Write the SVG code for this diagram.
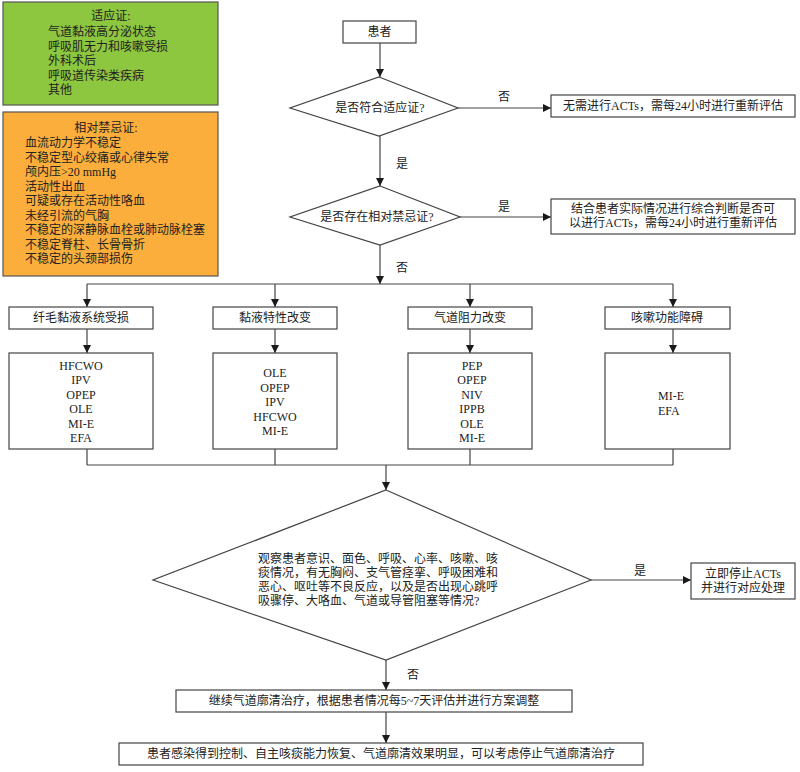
<svg xmlns="http://www.w3.org/2000/svg" width="800" height="772" viewBox="0 0 800 772">
<defs>
<marker id="arr" markerUnits="userSpaceOnUse" markerWidth="9" markerHeight="9" refX="8" refY="4" orient="auto">
<path d="M0,0 L8,4 L0,8 z" fill="#1a1a1a"/>
</marker>
<style>
text{font-family:"Liberation Serif","Noto Sans CJK SC",serif;font-size:12px;fill:#222}
.c{text-anchor:middle}
.box{fill:#fff;stroke:#444;stroke-width:1.2}
.ln{fill:none;stroke:#444;stroke-width:1.2}
.ar{fill:none;stroke:#444;stroke-width:1.2;marker-end:url(#arr)}
</style>
</defs>
<rect width="800" height="772" fill="#fff"/>

<g id="indications">
<rect x="3" y="2" width="215" height="103" fill="#8dc63f" stroke="#555" stroke-width="1.2"/>
<text class="c" x="111" y="20">适应证:</text>
<text x="48" y="36">气道黏液高分泌状态</text>
<text x="48" y="50.5">呼吸肌无力和咳嗽受损</text>
<text x="48" y="65">外科术后</text>
<text x="48" y="79.5">呼吸道传染类疾病</text>
<text x="48" y="94">其他</text>
</g>

<g id="contraindications">
<rect x="3" y="112" width="215" height="164" fill="#fbae3c" stroke="#555" stroke-width="1.2"/>
<text class="c" x="106" y="132">相对禁忌证:</text>
<text x="25" y="147">血流动力学不稳定</text>
<text x="25" y="161.5">不稳定型心绞痛或心律失常</text>
<text x="25" y="176">颅内压&gt;20 mmHg</text>
<text x="25" y="190.5">活动性出血</text>
<text x="25" y="205">可疑或存在活动性咯血</text>
<text x="25" y="219.5">未经引流的气胸</text>
<text x="25" y="234">不稳定的深静脉血栓或肺动脉栓塞</text>
<text x="25" y="248.5">不稳定脊柱、长骨骨折</text>
<text x="25" y="263">不稳定的头颈部损伤</text>
</g>

<g id="connectors">
<path class="ar" d="M380,43 V77"/>
<path class="ar" d="M380,136 V186"/>
<path class="ar" d="M380,245 V284"/>
<path class="ar" d="M458,108 H551"/>
<path class="ar" d="M460,217 H551"/>
<path class="ln" d="M87,284 H673"/>
<path class="ar" d="M87,284 V307"/>
<path class="ar" d="M275,284 V307"/>
<path class="ar" d="M470,284 V307"/>
<path class="ar" d="M673,284 V307"/>
<path class="ar" d="M87,329 V353"/>
<path class="ar" d="M275,329 V353"/>
<path class="ar" d="M470,329 V353"/>
<path class="ar" d="M673,329 V353"/>
<path class="ln" d="M87,449 V465 M275,449 V465 M470,449 V465 M673,449 V465 M87,465 H673"/>
<path class="ar" d="M386,465 V490"/>
<path class="ar" d="M591,580 H691"/>
<path class="ar" d="M386,660 V690"/>
<path class="ar" d="M386,712 V743"/>
<text x="504" y="101" class="c">否</text>
<text x="402" y="168" class="c">是</text>
<text x="504" y="211" class="c">是</text>
<text x="402" y="272" class="c">否</text>
<text x="640" y="575" class="c">是</text>
<text x="413" y="679" class="c">否</text>
</g>

<g id="patient">
<rect class="box" x="343" y="21" width="73" height="22"/>
<text class="c" x="379.5" y="36">患者</text>
</g>

<g id="q1">
<polygon class="box" points="379,77 458,108 379,136 290,108"/>
<text class="c" x="380" y="112">是否符合适应证?</text>
</g>

<g id="no-acts">
<rect class="box" x="551" y="95" width="244" height="22"/>
<text class="c" x="673" y="110">无需进行ACTs，需每24小时进行重新评估</text>
</g>

<g id="q2">
<polygon class="box" points="380,186 460,217 380,245 290,217"/>
<text class="c" x="377" y="221">是否存在相对禁忌证?</text>
</g>

<g id="judge">
<rect class="box" x="551" y="199" width="244" height="35"/>
<text class="c" x="673" y="213">结合患者实际情况进行综合判断是否可</text>
<text class="c" x="673" y="226.5">以进行ACTs，需每24小时进行重新评估</text>
</g>

<g id="cat1">
<rect class="box" x="9" y="307" width="144" height="22"/>
<text class="c" x="81" y="322">纤毛黏液系统受损</text>
</g>
<g id="cat2">
<rect class="box" x="213" y="307" width="124" height="22"/>
<text class="c" x="275" y="322">黏液特性改变</text>
</g>
<g id="cat3">
<rect class="box" x="408" y="307" width="124" height="22"/>
<text class="c" x="470" y="322">气道阻力改变</text>
</g>
<g id="cat4">
<rect class="box" x="605" y="307" width="125" height="22"/>
<text class="c" x="667" y="322">咳嗽功能障碍</text>
</g>

<g id="m1">
<rect class="box" x="9" y="353" width="144" height="96"/>
<text class="c" x="81" y="369.5">HFCWO</text>
<text class="c" x="81" y="384">IPV</text>
<text class="c" x="81" y="398.5">OPEP</text>
<text class="c" x="81" y="413">OLE</text>
<text class="c" x="81" y="427.5">MI-E</text>
<text class="c" x="81" y="442">EFA</text>
</g>
<g id="m2">
<rect class="box" x="213" y="353" width="124" height="96"/>
<text class="c" x="275" y="377">OLE</text>
<text class="c" x="275" y="391.5">OPEP</text>
<text class="c" x="275" y="406">IPV</text>
<text class="c" x="275" y="420.5">HFCWO</text>
<text class="c" x="275" y="435">MI-E</text>
</g>
<g id="m3">
<rect class="box" x="408" y="353" width="124" height="96"/>
<text class="c" x="472" y="369.5">PEP</text>
<text class="c" x="472" y="384">OPEP</text>
<text class="c" x="472" y="398.5">NIV</text>
<text class="c" x="472" y="413">IPPB</text>
<text class="c" x="472" y="427.5">OLE</text>
<text class="c" x="472" y="442">MI-E</text>
</g>
<g id="m4">
<rect class="box" x="605" y="353" width="125" height="96"/>
<text x="658" y="400">MI-E</text>
<text x="658" y="414.5">EFA</text>
</g>

<g id="q3">
<polygon class="box" points="386,490 591,580 386,660 153,580"/>
<text x="258" y="563">观察患者意识、面色、呼吸、心率、咳嗽、咳</text>
<text x="258" y="577">痰情况，有无胸闷、支气管痉挛、呼吸困难和</text>
<text x="258" y="591">恶心、呕吐等不良反应，以及是否出现心跳呼</text>
<text x="258" y="605">吸骤停、大咯血、气道或导管阻塞等情况?</text>
</g>

<g id="stop">
<rect class="box" x="691" y="563" width="104" height="36"/>
<text class="c" x="743" y="578">立即停止ACTs</text>
<text class="c" x="743" y="592">并进行对应处理</text>
</g>

<g id="continue">
<rect class="box" x="176" y="690" width="396" height="22"/>
<text class="c" x="374" y="705">继续气道廓清治疗，根据患者情况每5~7天评估并进行方案调整</text>
</g>

<g id="end">
<rect class="box" x="119" y="743" width="524" height="22"/>
<text class="c" x="381" y="758">患者感染得到控制、自主咳痰能力恢复、气道廓清效果明显，可以考虑停止气道廓清治疗</text>
</g>
</svg>
